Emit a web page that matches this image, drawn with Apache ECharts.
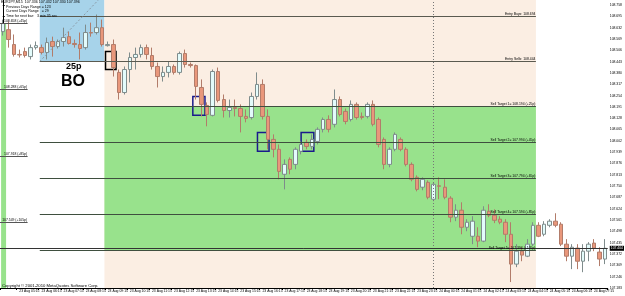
<!DOCTYPE html>
<html>
<head>
<meta charset="utf-8">
<script src="https://cdn.jsdelivr.net/npm/echarts@6/dist/echarts.min.js"></script>
<style>
  html, body { margin: 0; padding: 0; background: #fff; }
  #chart { width: 625px; height: 296px; }
</style>
</head>
<body>
<div id="chart"></div>
<script>
  // EURJPY M15 bars
  const times = [
    '23 Aug 04:30', '23 Aug 04:45',
    '23 Aug 05:00', '23 Aug 05:15', '23 Aug 05:30', '23 Aug 05:45',
    '23 Aug 06:00', '23 Aug 06:15', '23 Aug 06:30', '23 Aug 06:45',
    '23 Aug 07:00', '23 Aug 07:15', '23 Aug 07:30', '23 Aug 07:45',
    '23 Aug 08:00', '23 Aug 08:15', '23 Aug 08:30', '23 Aug 08:45',
    '23 Aug 09:00', '23 Aug 09:15', '23 Aug 09:30', '23 Aug 09:45',
    '23 Aug 10:00', '23 Aug 10:15', '23 Aug 10:30', '23 Aug 10:45',
    '23 Aug 11:00', '23 Aug 11:15', '23 Aug 11:30', '23 Aug 11:45',
    '23 Aug 12:00', '23 Aug 12:15', '23 Aug 12:30', '23 Aug 12:45',
    '23 Aug 13:00', '23 Aug 13:15', '23 Aug 13:30', '23 Aug 13:45',
    '23 Aug 14:00', '23 Aug 14:15', '23 Aug 14:30', '23 Aug 14:45',
    '23 Aug 15:00', '23 Aug 15:15', '23 Aug 15:30', '23 Aug 15:45',
    '23 Aug 16:00', '23 Aug 16:15', '23 Aug 16:30', '23 Aug 16:45',
    '23 Aug 17:00', '23 Aug 17:15', '23 Aug 17:30', '23 Aug 17:45',
    '23 Aug 18:00', '23 Aug 18:15', '23 Aug 18:30', '23 Aug 18:45',
    '23 Aug 19:00', '23 Aug 19:15', '23 Aug 19:30', '23 Aug 19:45',
    '23 Aug 20:00', '23 Aug 20:15', '23 Aug 20:30', '23 Aug 20:45',
    '23 Aug 21:00', '23 Aug 21:15', '23 Aug 21:30', '23 Aug 21:45',
    '23 Aug 22:00', '23 Aug 22:15', '23 Aug 22:30', '23 Aug 22:45',
    '23 Aug 23:00', '23 Aug 23:15', '23 Aug 23:30', '23 Aug 23:45',
    '24 Aug 00:00', '24 Aug 00:15', '24 Aug 00:30', '24 Aug 00:45',
    '24 Aug 01:00', '24 Aug 01:15', '24 Aug 01:30', '24 Aug 01:45',
    '24 Aug 02:00', '24 Aug 02:15', '24 Aug 02:30', '24 Aug 02:45',
    '24 Aug 03:00', '24 Aug 03:15', '24 Aug 03:30', '24 Aug 03:45',
    '24 Aug 04:00', '24 Aug 04:15', '24 Aug 04:30', '24 Aug 04:45',
    '24 Aug 05:00', '24 Aug 05:15', '24 Aug 05:30', '24 Aug 05:45',
    '24 Aug 06:00', '24 Aug 06:15', '24 Aug 06:30', '24 Aug 06:45',
    '24 Aug 07:00', '24 Aug 07:15', '24 Aug 07:30', '24 Aug 07:45'
  ]

  // [open, close, low, high]
  const candles = [
    [108.610, 108.655, 108.588, 108.677], [108.621, 108.566, 108.521, 108.666],
    [108.538, 108.483, 108.471, 108.594], [108.483, 108.480, 108.466, 108.510],
    [108.499, 108.477, 108.466, 108.521], [108.471, 108.521, 108.455, 108.538],
    [108.521, 108.532, 108.510, 108.555], [108.521, 108.494, 108.483, 108.538],
    [108.494, 108.549, 108.455, 108.577], [108.555, 108.527, 108.471, 108.582],
    [108.527, 108.555, 108.516, 108.566], [108.555, 108.577, 108.527, 108.632],
    [108.582, 108.544, 108.538, 108.610], [108.544, 108.538, 108.521, 108.566],
    [108.538, 108.516, 108.455, 108.605], [108.521, 108.605, 108.510, 108.649],
    [108.605, 108.602, 108.582, 108.660], [108.605, 108.632, 108.594, 108.705],
    [108.632, 108.538, 108.527, 108.677], [108.532, 108.538, 108.527, 108.555],
    [108.538, 108.410, 108.360, 108.566], [108.383, 108.271, 108.232, 108.399],
    [108.271, 108.399, 108.260, 108.416], [108.399, 108.466, 108.327, 108.494],
    [108.466, 108.483, 108.399, 108.521], [108.483, 108.521, 108.466, 108.538],
    [108.521, 108.483, 108.455, 108.538], [108.477, 108.416, 108.399, 108.521],
    [108.416, 108.360, 108.299, 108.438], [108.360, 108.383, 108.332, 108.416],
    [108.383, 108.416, 108.355, 108.444], [108.416, 108.383, 108.371, 108.427],
    [108.383, 108.488, 108.371, 108.499], [108.488, 108.427, 108.410, 108.510],
    [108.427, 108.421, 108.410, 108.438], [108.421, 108.305, 108.232, 108.427],
    [108.299, 108.205, 108.138, 108.344], [108.199, 108.149, 108.083, 108.216],
    [108.144, 108.388, 108.138, 108.399], [108.388, 108.227, 108.216, 108.410],
    [108.232, 108.171, 108.132, 108.260], [108.171, 108.188, 108.132, 108.232],
    [108.188, 108.182, 108.138, 108.232], [108.182, 108.138, 108.049, 108.205],
    [108.138, 108.127, 108.105, 108.177], [108.132, 108.249, 108.121, 108.271],
    [108.249, 108.316, 108.232, 108.383], [108.316, 108.138, 108.121, 108.344],
    [108.138, 108.010, 107.955, 108.177], [108.010, 107.955, 107.910, 108.038],
    [107.955, 107.832, 107.788, 107.982], [107.816, 107.871, 107.732, 107.899],
    [107.899, 107.844, 107.816, 107.910], [107.871, 107.955, 107.844, 107.966],
    [107.944, 107.982, 107.927, 107.999], [107.994, 107.971, 107.955, 108.010],
    [107.971, 108.010, 107.955, 108.038], [107.999, 108.066, 107.982, 108.077],
    [108.066, 108.121, 108.049, 108.132], [108.121, 108.066, 108.049, 108.144],
    [108.094, 108.232, 108.077, 108.288], [108.232, 108.149, 108.138, 108.249],
    [108.166, 108.110, 108.094, 108.182], [108.121, 108.205, 108.110, 108.227],
    [108.205, 108.132, 108.121, 108.216], [108.138, 108.132, 108.121, 108.160],
    [108.138, 108.205, 108.127, 108.216], [108.205, 108.094, 108.083, 108.227],
    [108.121, 107.982, 107.966, 108.132], [108.010, 107.871, 107.844, 108.021],
    [107.871, 107.955, 107.855, 107.966], [107.955, 108.038, 107.944, 108.049],
    [108.010, 107.955, 107.944, 108.021], [107.955, 107.871, 107.860, 107.966],
    [107.871, 107.788, 107.777, 107.882], [107.799, 107.732, 107.721, 107.810],
    [107.744, 107.788, 107.727, 107.799], [107.771, 107.688, 107.677, 107.782],
    [107.677, 107.760, 107.666, 107.771], [107.752, 107.749, 107.677, 107.799],
    [107.744, 107.688, 107.677, 107.788], [107.683, 107.577, 107.549, 107.694],
    [107.577, 107.616, 107.555, 107.649], [107.616, 107.521, 107.482, 107.660],
    [107.521, 107.549, 107.499, 107.566], [107.471, 107.555, 107.427, 107.583],
    [107.471, 107.444, 107.410, 107.521], [107.444, 107.616, 107.438, 107.638],
    [107.610, 107.588, 107.577, 107.649], [107.588, 107.560, 107.544, 107.621],
    [107.566, 107.549, 107.538, 107.583], [107.549, 107.482, 107.438, 107.566],
    [107.482, 107.316, 107.216, 107.549], [107.316, 107.388, 107.299, 107.427],
    [107.388, 107.366, 107.332, 107.410], [107.360, 107.427, 107.355, 107.455],
    [107.427, 107.532, 107.416, 107.549], [107.532, 107.471, 107.466, 107.549],
    [107.482, 107.538, 107.471, 107.555], [107.532, 107.555, 107.521, 107.566],
    [107.555, 107.532, 107.521, 107.599], [107.538, 107.427, 107.416, 107.549],
    [107.427, 107.360, 107.332, 107.455], [107.360, 107.410, 107.288, 107.427],
    [107.405, 107.332, 107.288, 107.427], [107.332, 107.388, 107.271, 107.427],
    [107.388, 107.427, 107.332, 107.438], [107.433, 107.405, 107.388, 107.455],
    [107.383, 107.344, 107.305, 107.410], [107.344, 107.404, 107.316, 107.455]
  ]

  // price scale (right axis)
  const priceMin = 107.183
  const priceMax = 108.786
  const priceStep = 0.063

  // breakout levels
  const entryBuy = 108.694
  const entrySell = 108.444
  const sellTargets = [108.194, 107.994, 107.794, 107.594, 107.394]
  const targetPips = [25, 45, 65, 85, 105]
  const bid = 107.404

  // previous day's levels, cut at left edge
  const prevLevels = [108.658, 108.288, 107.918, 107.549]
  const prevLabels = ['108.658 (+45p)', '108.288 (+65p)', '107.918 (+85p)', '107.549 (+105p)']

  // highlighted bars: [from bar, to bar, low, high]
  const boxes = [
    [18.6, 20.5, 108.399, 108.499, '#000'],
    [34.4, 36.6, 108.144, 108.249, '#1a1a8c'],
    [46.1, 48.2, 107.944, 108.049, '#1a1a8c'],
    [54.0, 56.3, 107.944, 108.049, '#1a1a8c']
  ]

  const chart = echarts.init(document.getElementById('chart'))
  const font = 'Liberation Sans, Arial, sans-serif'
  const lineLabel = (text) => ({
    show: true,
    position: 'insideEndTop',
    formatter: text,
    fontSize: 3.4,
    fontFamily: font,
    color: '#000',
    distance: 0.5,
  })
  const seg = (x1, x2, y, text, color) => [
    { coord: [x1, y], lineStyle: { color: color, width: 1, type: 'solid' }, label: lineLabel(text) },
    { coord: [x2, y] },
  ]
  const boxStart = 6.7
  const zoneStart = 18.4
  const zoneEnd = 96.5
  const showLabel = (idx) => idx === 0 || idx % 4 === 3

  const option = {
    animation: false,
    backgroundColor: '#fff',
    grid: { left: 0, right: 13, top: 0, bottom: 8 },
    xAxis: [
      {
        type: 'category',
        data: times,
        boundaryGap: true,
        axisLine: { lineStyle: { color: '#000', width: 1 } },
        axisTick: { show: true, length: 2, interval: showLabel, lineStyle: { color: '#000' } },
        axisLabel: {
          interval: showLabel,
          formatter: (v, idx) => (idx === 0 ? '23 Aug 2010' : v),
          fontSize: 3.4,
          fontFamily: font,
          color: '#000',
          align: 'left',
          margin: 2,
        },
        splitLine: { show: false },
      },
      { type: 'value', min: -0.5, max: 109.5, show: false },
    ],
    yAxis: {
      type: 'value',
      position: 'right',
      min: priceMin,
      max: priceMax,
      interval: priceStep,
      scale: true,
      axisLine: { show: true, lineStyle: { color: '#000', width: 1 } },
      axisTick: { show: true, length: 2, lineStyle: { color: '#000' } },
      axisLabel: {
        fontSize: 3.4,
        fontFamily: font,
        color: '#000',
        margin: 2,
        showMaxLabel: false,
        formatter: (v) => v.toFixed(3),
      },
      splitLine: { show: false },
    },
    series: [
      {
        // background zones
        type: 'line',
        xAxisIndex: 1,
        data: [[-0.5, priceMin]],
        symbol: 'none',
        lineStyle: { opacity: 0 },
        silent: true,
        z: 1,
        markArea: {
          silent: true,
          data: [
            [{ xAxis: -0.3, yAxis: priceMin, itemStyle: { color: '#98e28c' } }, { xAxis: 0.6, yAxis: prevLevels[0] }],
            [{ xAxis: boxStart, yAxis: entrySell, itemStyle: { color: '#a7d3ea' } }, { xAxis: zoneStart, yAxis: priceMax }],
            [{ xAxis: zoneStart, yAxis: priceMin, itemStyle: { color: '#fbeee3' } }, { xAxis: zoneEnd, yAxis: priceMax }],
            [{ xAxis: zoneStart, yAxis: sellTargets[0], itemStyle: { color: '#98e28c' } }, { xAxis: zoneEnd, yAxis: sellTargets[4] }],
          ],
        },
      },
      {
        // level lines
        type: 'line',
        xAxisIndex: 1,
        data: [[-0.5, priceMin]],
        symbol: 'none',
        lineStyle: { opacity: 0 },
        silent: true,
        z: 2,
        markLine: {
          silent: true,
          symbol: ['none', 'none'],
          animation: false,
          data: [
            seg(boxStart, zoneEnd, entryBuy, 'Entry Buys: ' + entryBuy.toFixed(3), '#5a5a50'),
            seg(boxStart, zoneEnd, entrySell, 'Entry Sells: ' + entrySell.toFixed(3), '#5a5a50'),
            ...sellTargets.map((v, k) =>
              seg(boxStart, zoneEnd, v, 'Sell Target ' + (k + 1) + '= ' + v.toFixed(3) + ' (+' + targetPips[k] + 'p)', '#3f4f3f')
            ),
            ...prevLevels.map((v, k) => seg(-0.5, 4.5, v, prevLabels[k], '#555')),
            [
              { coord: [78, priceMin], lineStyle: { color: '#777', width: 1, type: [1, 2] }, label: { show: false } },
              { coord: [78, priceMax] },
            ],
            [
              { coord: [boxStart, entrySell], lineStyle: { color: '#8a9aa6', width: 1, type: [2, 2] }, label: { show: false } },
              { coord: [17.3, priceMax] },
            ],
            [
              {
                coord: [-0.5, bid],
                lineStyle: { color: '#333', width: 1, type: 'solid' },
                label: {
                  show: true,
                  position: 'end',
                  formatter: bid.toFixed(3),
                  fontSize: 3.4,
                  fontFamily: font,
                  color: '#fff',
                  backgroundColor: '#000',
                  padding: [1, 1],
                  distance: 2,
                },
              },
              { coord: [109.5, bid] },
            ],
          ],
        },
      },
      {
        type: 'candlestick',
        xAxisIndex: 0,
        data: candles,
        barWidth: 4,
        z: 3,
        itemStyle: {
          color: '#e3fbfb',
          color0: '#e9977b',
          borderColor: '#7f8c8c',
          borderColor0: '#b27c6a',
          borderWidth: 1,
        },
      },
      {
        // highlight boxes
        type: 'line',
        xAxisIndex: 1,
        data: [[-0.5, priceMin]],
        symbol: 'none',
        lineStyle: { opacity: 0 },
        silent: true,
        z: 4,
        markArea: {
          silent: true,
          data: boxes.map((b) => [
            { xAxis: b[0], yAxis: b[2], itemStyle: { color: 'rgba(0,0,0,0)', borderColor: b[4], borderWidth: 1.5 } },
            { xAxis: b[1], yAxis: b[3] },
          ]),
        },
      },
    ],
    graphic: [
      {
        type: 'text',
        left: 1,
        top: 0,
        z: 10,
        style: {
          text: 'EURJPY,M15  107.336 107.432 107.330 107.396',
          fontSize: 3.6,
          fontFamily: font,
          fill: '#000',
        },
      },
      {
        type: 'text',
        left: 6,
        top: 4.5,
        z: 10,
        style: {
          text: 'Previous Days Range = 123\nCurrent Days Range   = 29\nTime for next bar:   3 min 35 sec',
          fontSize: 3.6,
          lineHeight: 4.6,
          fontFamily: font,
          fill: '#000',
        },
      },
      {
        type: 'text',
        left: 66,
        top: 62,
        z: 10,
        style: { text: '25p', fontSize: 9, fontWeight: 'bold', fontFamily: font, fill: '#000' },
      },
      {
        type: 'text',
        left: 61,
        top: 74,
        z: 10,
        style: { text: 'BO', fontSize: 16, fontWeight: 'bold', fontFamily: font, fill: '#000' },
      },
      {
        type: 'text',
        left: 2,
        top: 284,
        z: 10,
        style: {
          text: 'Copyright \u00a9 2001-2010 MetaQuotes Software Corp.',
          fontSize: 4.2,
          fontFamily: font,
          fill: '#000',
        },
      },
    ],
  }

  chart.setOption(option)
</script>
</body>
</html>
